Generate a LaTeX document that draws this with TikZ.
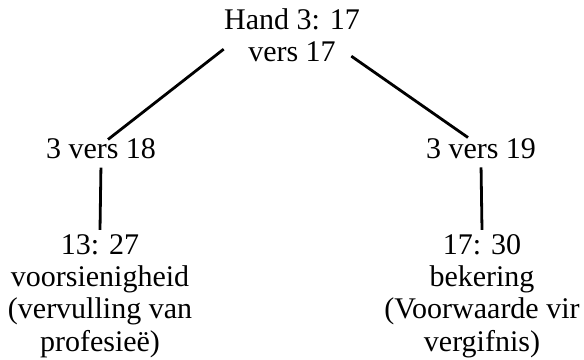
\documentclass[tikz,border=0pt]{standalone}
\usepackage{fontspec}
\setmainfont{Liberation Serif}
\usetikzlibrary{positioning}

\begin{document}
\begin{tikzpicture}[
    x=0.5pt, y=-0.5pt,
    verse/.style={align=center, inner sep=2pt, font=\fontsize{15}{16.2}\selectfont},
    link/.style={line width=1.4pt, black}
]
\useasboundingbox (0,0) rectangle (584,359);

% --- 1. THE TOP VERSE ---
\node [verse] (hand) at (292,35) {Hand 3: 17\\vers 17};

% --- 2. SECOND LEVEL ---
\node [verse] (v18) at (101,149) {3 vers 18};
\node [verse] (v19) at (481,149) {3 vers 19};

% --- 3. BOTTOM LEVEL ---
\node [verse] (voor) at (100,296) {13: 27\\voorsienigheid\\(vervulling van\\profesieë)};
\node [verse] (bek) at (482,296) {17: 30\\bekering\\(Voorwaarde vir\\vergifnis)};

% --- 4. CONNECTORS ---
\draw[link] ([xshift=2pt,yshift=8.5pt]hand.south west) -- ([xshift=3.5pt,yshift=-2.5pt]v18.north);
\draw[link] ([xshift=-6.5pt,yshift=5pt]hand.south east) -- ([xshift=-6.5pt,yshift=-1.5pt]v19.north);
\draw[link, shorten <=2pt, shorten >=0pt] (v18.south) -- (voor.north);
\draw[link, shorten <=2pt, shorten >=0pt] (v19.south) -- (bek.north);

\end{tikzpicture}
\end{document}
